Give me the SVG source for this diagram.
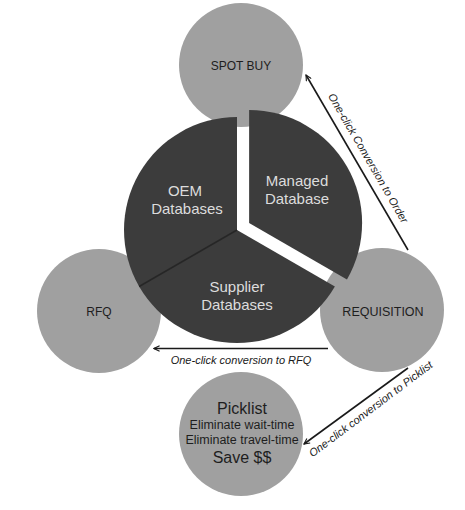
<svg xmlns="http://www.w3.org/2000/svg" width="465" height="510" viewBox="0 0 465 510">
<defs>
<style>
.circ{fill:#a0a0a0}
.wedge{fill:#3c3c3c}
.lbl{font-family:"Liberation Sans",Arial,sans-serif;fill:#1e1e1e;text-anchor:middle}
.pie{font-family:"Liberation Sans",Arial,sans-serif;fill:#dcdcdc;text-anchor:middle;font-size:15px}
.conn{stroke:#1a1a1a;stroke-width:1.6;fill:none;marker-end:url(#ah)}
.clbl{font-family:"Liberation Sans",Arial,sans-serif;font-style:italic;fill:#1a1a1a;text-anchor:middle;font-size:11px}
</style>
<marker id="ah" viewBox="0 0 10 10" refX="9" refY="5" markerWidth="7" markerHeight="7" orient="auto" markerUnits="userSpaceOnUse">
<path d="M1,1 L9,5 L1,9" fill="none" stroke="#1a1a1a" stroke-width="1.6"/>
</marker>
</defs>
<rect width="465" height="510" fill="#ffffff"/>
<g id="spotbuy">
<circle class="circ" cx="241" cy="65" r="62"/>
<text class="lbl" x="241" y="70" font-size="12">SPOT BUY</text>
</g>
<g id="rfq">
<circle class="circ" cx="99" cy="311" r="62"/>
<text class="lbl" x="99" y="316" font-size="12">RFQ</text>
</g>
<g id="requisition">
<circle class="circ" cx="382" cy="310" r="62"/>
<text class="lbl" x="383" y="316" font-size="12.5">REQUISITION</text>
</g>
<g id="picklist">
<circle class="circ" cx="241" cy="434" r="62"/>
<text class="lbl" x="242" y="414" font-size="16">Picklist</text>
<text class="lbl" x="242" y="429" font-size="12.5">Eliminate wait-time</text>
<text class="lbl" x="242" y="444" font-size="12.5">Eliminate travel-time</text>
<text class="lbl" x="242" y="463" font-size="16">Save $$</text>
</g>
<g id="oem">
<path class="wedge" d="M237,230 L139.14,286.5 A113,113 0 0 1 237,117 Z"/>
<text class="pie" x="185" y="196">OEM</text>
<text class="pie" x="187" y="214">Databases</text>
</g>
<g id="supplier">
<path class="wedge" d="M237,230 L334.86,286.5 A113,113 0 0 1 139.14,286.5 Z"/>
<line x1="237" y1="230" x2="139.14" y2="286.5" stroke="#262626" stroke-width="1.5"/>
<text class="pie" x="237" y="292">Supplier</text>
<text class="pie" x="237" y="310">Databases</text>
</g>
<g id="managed">
<path class="wedge" d="M249.1,223 L346.96,279.5 A113,113 0 0 0 249.1,110 Z"/>
<text class="pie" x="297" y="186">Managed</text>
<text class="pie" x="297" y="204">Database</text>
</g>
<g id="connectors">
<line class="conn" x1="408" y1="250" x2="306" y2="75"/>
<text class="clbl" transform="translate(365,160) rotate(59.8)">One-click Conversion to Order</text>
<line class="conn" x1="328" y1="348.5" x2="154" y2="348.5"/>
<text class="clbl" x="241" y="364">One-click conversion to RFQ</text>
<line class="conn" x1="408" y1="368" x2="304" y2="444"/>
<text class="clbl" transform="translate(373,412) rotate(-37)">One-click conversion to Picklist</text>
</g>
</svg>
